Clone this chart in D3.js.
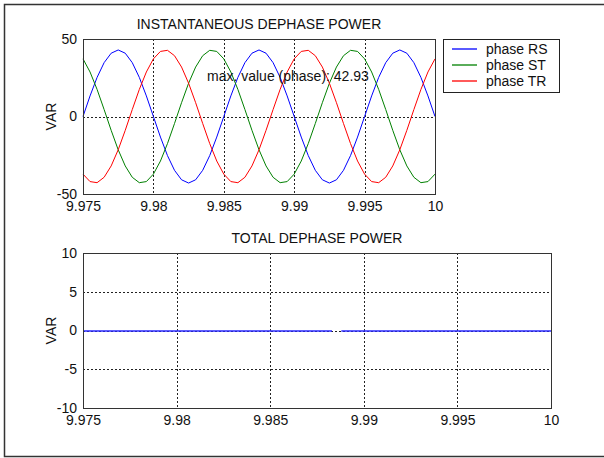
<!DOCTYPE html>
<html>
<head>
<meta charset="utf-8">
<script src="https://cdn.jsdelivr.net/npm/d3@7"></script>
<style>
  body { margin: 0; background: #fff; }
  text { font-family: "Liberation Sans", Arial, sans-serif; font-size: 14px; fill: #111; }
</style>
</head>
<body>
<div id="chart"></div>
<script>
// sample times (s)
const time = [9.975, 9.9755, 9.976, 9.9765, 9.977, 9.9775, 9.978, 9.9785, 9.979, 9.9795,
  9.98, 9.9805, 9.981, 9.9815, 9.982, 9.9825, 9.983, 9.9835, 9.984, 9.9845,
  9.985, 9.9855, 9.986, 9.9865, 9.987, 9.9875, 9.988, 9.9885, 9.989, 9.9895,
  9.99, 9.9905, 9.991, 9.9915, 9.992, 9.9925, 9.993, 9.9935, 9.994, 9.9945,
  9.995, 9.9955, 9.996, 9.9965, 9.997, 9.9975, 9.998, 9.9985, 9.999, 9.9995, 10];

// instantaneous power per phase (VAR)
const phaseRS = [0, 13.27, 25.23, 34.73, 40.83, 42.93, 40.83, 34.73, 25.23, 13.27,
  0, -13.27, -25.23, -34.73, -40.83, -42.93, -40.83, -34.73, -25.23, -13.27,
  0, 13.27, 25.23, 34.73, 40.83, 42.93, 40.83, 34.73, 25.23, 13.27,
  0, -13.27, -25.23, -34.73, -40.83, -42.93, -40.83, -34.73, -25.23, -13.27,
  0, 13.27, 25.23, 34.73, 40.83, 42.93, 40.83, 34.73, 25.23, 13.27, 0];
const phaseST = [37.18, 28.73, 17.46, 4.49, -8.93, -21.47, -31.90, -39.22, -42.70, -41.99,
  -37.18, -28.73, -17.46, -4.49, 8.93, 21.47, 31.90, 39.22, 42.70, 41.99,
  37.18, 28.73, 17.46, 4.49, -8.93, -21.47, -31.90, -39.22, -42.70, -41.99,
  -37.18, -28.73, -17.46, -4.49, 8.93, 21.47, 31.90, 39.22, 42.70, 41.99,
  37.18, 28.73, 17.46, 4.49, -8.93, -21.47, -31.90, -39.22, -42.70, -41.99, -37.18];
const phaseTR = [-37.18, -41.99, -42.70, -39.22, -31.90, -21.47, -8.93, 4.49, 17.46, 28.73,
  37.18, 41.99, 42.70, 39.22, 31.90, 21.47, 8.93, -4.49, -17.46, -28.73,
  -37.18, -41.99, -42.70, -39.22, -31.90, -21.47, -8.93, 4.49, 17.46, 28.73,
  37.18, 41.99, 42.70, 39.22, 31.90, 21.47, 8.93, -4.49, -17.46, -28.73,
  -37.18, -41.99, -42.70, -39.22, -31.90, -21.47, -8.93, 4.49, 17.46, 28.73, 37.18];

// total power, with the small break seen near 9.9885
const totalTime = [9.975, 9.9883, 9.9885, 9.9888, 10];
const totalValues = [0, 0, null, 0, 0];

const seriesNames = ["phase RS", "phase ST", "phase TR"];
const seriesColors = ["#0000ff", "#008000", "#ff0000"];
const xTicks = [9.975, 9.98, 9.985, 9.99, 9.995, 10];
const yTicksTop = [-50, 0, 50];
const yTicksBottom = [-10, -5, 0, 5, 10];
const maxValue = 42.93;

const W = 604, H = 458;

const svg = d3.select("#chart")
  .append("svg")
    .attr("width", W)
    .attr("height", H);

// figure frame
svg.append("rect")
  .attr("x", 4.5).attr("y", 4.5)
  .attr("width", 620).attr("height", 452)
  .attr("fill", "#fff")
  .attr("stroke", "#333")
  .attr("stroke-width", 1.5);

const fmt = d => String(+d.toFixed(3));

function drawPanel(box, yDomain, yTicks, title) {
  const x = d3.scaleLinear().domain([9.975, 10]).range([box.left, box.right]);
  const y = d3.scaleLinear().domain(yDomain).range([box.bottom, box.top]);
  const g = svg.append("g");

  g.append("rect")
    .attr("x", box.left).attr("y", box.top)
    .attr("width", box.right - box.left).attr("height", box.bottom - box.top)
    .attr("fill", "#fff");

  // dotted grid (inner ticks only)
  g.selectAll(".vgrid")
    .data(xTicks.slice(1, -1))
    .join("line")
      .attr("x1", d => Math.round(x(d)) + 0.5).attr("x2", d => Math.round(x(d)) + 0.5)
      .attr("y1", box.top).attr("y2", box.bottom)
      .attr("stroke", "#222").attr("stroke-dasharray", "2,2");
  g.selectAll(".hgrid")
    .data(yTicks.slice(1, -1))
    .join("line")
      .attr("x1", box.left).attr("x2", box.right)
      .attr("y1", d => Math.round(y(d)) + 0.5).attr("y2", d => Math.round(y(d)) + 0.5)
      .attr("stroke", "#222").attr("stroke-dasharray", "2,2");

  // tick labels
  g.append("g")
    .attr("transform", `translate(0,${box.bottom})`)
    .call(d3.axisBottom(x).tickValues(xTicks).tickSize(0).tickPadding(7).tickFormat(fmt))
    .call(a => a.select(".domain").remove())
    .call(a => a.selectAll("text").style("font-size", "14px").attr("fill", "#111")
      .style("font-family", "'Liberation Sans', Arial, sans-serif"));
  g.append("g")
    .attr("transform", `translate(${box.left},0)`)
    .call(d3.axisLeft(y).tickValues(yTicks).tickSize(0).tickPadding(6).tickFormat(d => String(d)))
    .call(a => a.select(".domain").remove())
    .call(a => a.selectAll("text").style("font-size", "14px").attr("fill", "#111")
      .style("font-family", "'Liberation Sans', Arial, sans-serif"));

  // y label
  g.append("text")
    .attr("transform", `translate(${box.left - 32},${(box.top + box.bottom) / 2}) rotate(-90)`)
    .attr("text-anchor", "middle")
    .attr("dy", "0.35em")
    .text("VAR");

  // title
  g.append("text")
    .attr("x", (box.left + box.right) / 2)
    .attr("y", box.top - 10)
    .attr("text-anchor", "middle")
    .text(title);

  return {x, y, g};
}

// top panel
const topPanel = drawPanel({left: 83, right: 435, top: 39, bottom: 194}, [-50, 50], yTicksTop,
  "INSTANTANEOUS DEPHASE POWER");

[phaseRS, phaseST, phaseTR].forEach(function(vals, i) {
  const line = d3.line()
    .x((d, j) => topPanel.x(time[j]))
    .y(d => topPanel.y(d));
  topPanel.g.append("path")
    .datum(vals)
    .attr("fill", "none")
    .attr("stroke", seriesColors[i])
    .attr("stroke-width", 1)
    .attr("d", line);
});

topPanel.g.append("text")
  .attr("x", 207)
  .attr("y", 81)
  .text("max. value (phase): " + maxValue.toFixed(2));

// axes box on top of lines
topPanel.g.append("rect")
  .attr("x", 83.5).attr("y", 39.5).attr("width", 352).attr("height", 155)
  .attr("fill", "none").attr("stroke", "#333");

// legend
const legend = svg.append("g");
legend.append("rect")
  .attr("x", 443.5).attr("y", 39.5).attr("width", 116).attr("height", 53)
  .attr("fill", "#fff").attr("stroke", "#222");
seriesNames.forEach(function(name, i) {
  const ly = 49 + i * 16;
  legend.append("line")
    .attr("x1", 452).attr("x2", 477)
    .attr("y1", ly).attr("y2", ly)
    .attr("stroke", seriesColors[i])
    .attr("stroke-width", 1.3);
  legend.append("text")
    .attr("x", 486).attr("y", ly)
    .attr("dy", "0.35em")
    .text(name);
});

// bottom panel
const botPanel = drawPanel({left: 83, right: 551, top: 253, bottom: 408}, [-10, 10], yTicksBottom,
  "TOTAL DEPHASE POWER");

botPanel.g.append("path")
  .datum(totalValues)
  .attr("fill", "none")
  .attr("stroke", "#2a2aff")
  .attr("stroke-width", 1.4)
  .attr("d", d3.line()
    .defined(d => d !== null)
    .x((d, j) => botPanel.x(totalTime[j]))
    .y(d => Math.round(botPanel.y(d))));

botPanel.g.append("rect")
  .attr("x", 83.5).attr("y", 253.5).attr("width", 468).attr("height", 155)
  .attr("fill", "none").attr("stroke", "#333");
</script>
</body>
</html>
